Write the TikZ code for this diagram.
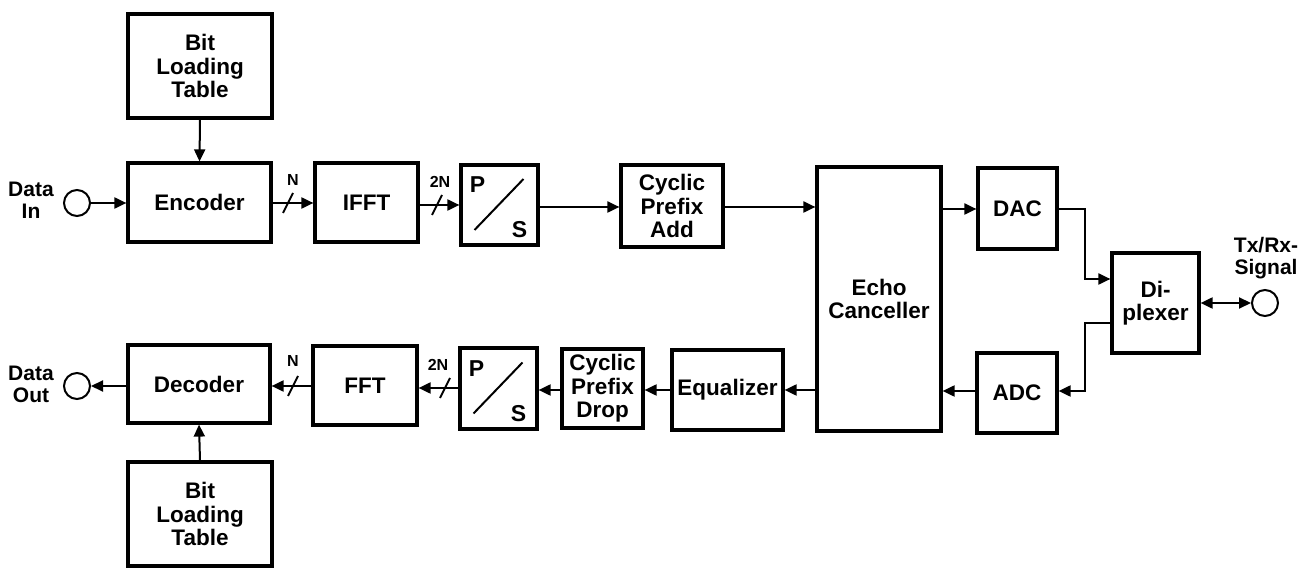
\documentclass[tikz,border=0pt]{standalone}
\usepackage{fontspec}
\setmainfont{Liberation Sans}
\usetikzlibrary{arrows.meta}
\begin{document}
\begin{tikzpicture}[x=1pt,y=-1pt,
  box/.style={draw, line width=3.2pt, align=center, inner sep=0pt,
    font=\fontsize{22.5}{23.5}\selectfont\bfseries},
  conn/.style={line width=2pt, -{Triangle[length=12pt,width=11pt]}},
  dconn/.style={line width=2pt, {Triangle[length=12pt,width=11pt]}-{Triangle[length=12pt,width=11pt]}},
  port/.style={draw, circle, line width=2pt, minimum size=26pt, inner sep=0pt},
  lbl/.style={align=center, inner sep=0pt, font=\fontsize{21}{22}\selectfont\bfseries},
  small/.style={inner sep=0pt, font=\fontsize{16}{17}\selectfont\bfseries},
  big/.style={inner sep=0pt, font=\fontsize{23}{24}\selectfont\bfseries},
  slash/.style={line width=2pt}]
\useasboundingbox (0,0) rectangle (1310,569);
\fill[white] (0,0) rectangle (1310,569);

% boxes
\node[box, minimum width=144pt, minimum height=104pt] (blt1) at (200,66) {Bit\\Loading\\Table};
\node[box, minimum width=143pt, minimum height=79pt] (enc) at (199.5,202.5) {Encoder};
\node[box, minimum width=103pt, minimum height=79pt] (ifft) at (366.5,202.5) {IFFT};
\node[box, minimum width=77pt, minimum height=80pt] (ps1) at (499.5,205) {};
\node[box, minimum width=102pt, minimum height=82pt] (cpa) at (672,206) {Cyclic\\Prefix\\Add};
\node[box, minimum width=124pt, minimum height=264pt] (echo) at (879,299) {Echo\\Canceller};
\node[box, minimum width=79pt, minimum height=81pt] (dac) at (1017.5,208.5) {DAC};
\node[box, minimum width=87pt, minimum height=100pt] (dip) at (1155.5,303) {Di-\\plexer};
\node[box, minimum width=80pt, minimum height=80pt] (adc) at (1017,393) {ADC};
\node[box, minimum width=111pt, minimum height=80pt] (eq) at (727.5,390) {Equalizer};
\node[box, minimum width=81pt, minimum height=79pt] (cpd) at (602.5,388.5) {Cyclic\\Prefix\\Drop};
\node[box, minimum width=77pt, minimum height=81pt] (ps2) at (498.5,388.5) {};
\node[box, minimum width=104pt, minimum height=79pt] (fft) at (365,385.5) {FFT};
\node[box, minimum width=142pt, minimum height=78pt] (dec) at (199,384) {Decoder};
\node[box, minimum width=144pt, minimum height=104pt] (blt2) at (200,514) {Bit\\Loading\\Table};

% P/S internals
\node[big] (p1) at ([shift={(-22,-20)}]ps1.center) {P};
\node[big] (s1) at ([shift={(20,25)}]ps1.center) {S};
\draw[slash] ([shift={(-25,25)}]ps1.center) coordinate (psa1) -- ([shift={(24,-26)}]ps1.center) coordinate (psb1);
\node[big] (p2) at ([shift={(-22,-20)}]ps2.center) {P};
\node[big] (s2) at ([shift={(20,25)}]ps2.center) {S};
\draw[slash] ([shift={(-25,25)}]ps2.center) coordinate (psa2) -- ([shift={(24,-26)}]ps2.center) coordinate (psb2);

% ports
\node[port] (din) at (77,203) {};
\node[port] (dout) at (77,386) {};
\node[port] (trx) at (1265,303) {};
\node[lbl] (dinl) at (31,200) {Data\\In};
\node[lbl] (doutl) at (31,384) {Data\\Out};
\node[lbl] (trxl) at (1266,258) {Tx/Rx-\\Signal};

% top row connectors
\draw[conn] (blt1.south) -- (enc.north);
\draw[conn] (din.east) -- (din.east -| enc.west);
\draw[conn] (enc.east |- 0,203) coordinate (e1) -- (ifft.west |- e1);
\draw[conn] (ifft.east |- 0,205) coordinate (e2) -- (ps1.west |- e2);
\draw[conn] (ps1.east |- 0,207) coordinate (e3) -- (cpa.west |- e3);
\draw[conn] (cpa.east |- 0,207) coordinate (e4) -- (echo.west |- e4);
\draw[conn] (echo.east |- 0,209) coordinate (e5) -- (dac.west |- e5);
\coordinate (j1) at (1085,209);
\coordinate (j2) at (1085,279);
\draw[conn] (dac.east |- j1) -- (j1) -- (j2) -- (dip.west |- j2);
\coordinate (j3) at (1085,323);
\coordinate (j4) at (1085,391);
\draw[conn] (dip.west |- j3) -- (j3) -- (j4) -- (adc.east |- j4);
\draw[dconn] (dip.east |- trx) -- (trx.west);

% bottom row connectors
\draw[conn] (adc.west |- 0,391) coordinate (b1) -- (echo.east |- b1);
\draw[conn] (echo.west |- 0,390) coordinate (b2) -- (eq.east |- b2);
\draw[conn] (eq.west |- 0,390) coordinate (b3) -- (cpd.east |- b3);
\draw[conn] (cpd.west |- 0,390) coordinate (b4) -- (ps2.east |- b4);
\draw[conn] (ps2.west |- 0,388) coordinate (b5) -- (fft.east |- b5);
\draw[conn] (fft.west |- 0,386) coordinate (b6) -- (dec.east |- b6);
\draw[conn] (dec.west |- dout) -- (dout.east);
\draw[conn] (blt2.north) -- (dec.south);

% bus slashes and labels
\draw[slash] (283,213) -- (293,193);
\node[small] (n1) at (293,180) {N};
\draw[slash] (432,215) -- (442,195);
\node[small] (n2) at (440,182) {2N};
\draw[slash] (288,396) -- (298,376);
\node[small] (n3) at (293,361) {N};
\draw[slash] (440,398) -- (450,378);
\node[small] (n4) at (438,365) {2N};
\end{tikzpicture}
\end{document}
